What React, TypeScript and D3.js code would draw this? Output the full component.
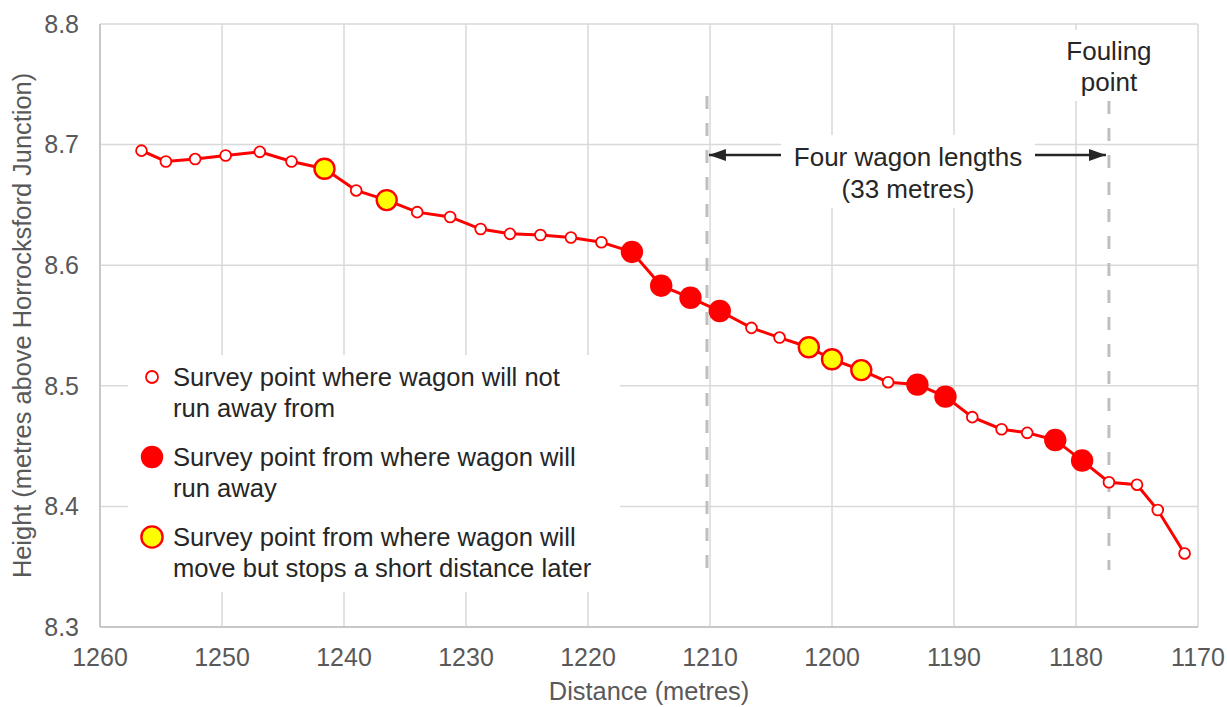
import React from 'react';
import * as d3 from 'd3';

// Survey points
const distances = [
  1256.6, 1254.6, 1252.2, 1249.7, 1246.9, 1244.3, 1241.6, 1239.0, 1236.5, 1234.0,
  1231.3, 1228.8, 1226.4, 1223.9, 1221.4, 1218.9, 1216.4, 1214.0, 1211.6, 1209.2,
  1206.6, 1204.3, 1201.9, 1200.0, 1197.6, 1195.4, 1193.0, 1190.7, 1188.5, 1186.1,
  1184.0, 1181.7, 1179.5, 1177.3, 1175.0, 1173.3, 1171.1,
];
const heights = [
  8.695, 8.686, 8.688, 8.691, 8.694, 8.686, 8.680, 8.662, 8.654, 8.644,
  8.640, 8.630, 8.626, 8.625, 8.623, 8.619, 8.611, 8.583, 8.573, 8.562,
  8.548, 8.540, 8.532, 8.522, 8.513, 8.503, 8.501, 8.491, 8.474, 8.464,
  8.461, 8.455, 8.438, 8.420, 8.418, 8.397, 8.361,
];
// o = will not run away, r = runs away, y = moves but stops
const kinds = [
  'o', 'o', 'o', 'o', 'o', 'o', 'y', 'o', 'y', 'o',
  'o', 'o', 'o', 'o', 'o', 'o', 'r', 'r', 'r', 'r',
  'o', 'o', 'y', 'y', 'y', 'o', 'r', 'r', 'o', 'o',
  'o', 'r', 'r', 'o', 'o', 'o', 'o',
];

const xTicks = [1260, 1250, 1240, 1230, 1220, 1210, 1200, 1190, 1180, 1170];
const yTicks = [8.3, 8.4, 8.5, 8.6, 8.7, 8.8];

const wagonStart = 1210.25;
const foulingPoint = 1177.3;

const legendItems = [
  { kind: 'o', lines: ['Survey point where wagon will not', 'run away from'] },
  { kind: 'r', lines: ['Survey point from where wagon will', 'run away'] },
  { kind: 'y', lines: ['Survey point from where wagon will', 'move but stops a short distance later'] },
];

const W = 1227;
const H = 707;
const margin = { top: 24, right: 29, bottom: 80, left: 100 };
const font = 'Arial, "Liberation Sans", sans-serif';

const x = d3.scaleLinear().domain([1260, 1170]).range([margin.left, W - margin.right]);
const y = d3.scaleLinear().domain([8.3, 8.8]).range([H - margin.bottom, margin.top]);

const pts = distances.map((d, i) => ({ d, h: heights[i], k: kinds[i] }));

const line = d3.line<{ d: number; h: number }>()
  .x(p => x(p.d))
  .y(p => y(p.h));

function Marker({ k, cx, cy, big }: { k: string; cx: number; cy: number; big?: boolean }) {
  if (k === 'o') return <circle cx={cx} cy={cy} r={big ? 6 : 5.4} fill="#fff" stroke="#ff0000" strokeWidth={1.8} />;
  if (k === 'r') return <circle cx={cx} cy={cy} r={11.2} fill="#ff0000" />;
  return <circle cx={cx} cy={cy} r={big ? 10.6 : 10} fill="#ffff00" stroke="#ff0000" strokeWidth={2.4} />;
}

export default function App() {
  const x0 = margin.left;
  const x1 = W - margin.right;
  const y0 = H - margin.bottom;
  const y1 = margin.top;
  const dashTop = 96;
  const dashBottom = 570;
  const arrowY = 155;
  const ink = '#262626';
  const axisInk = '#595959';

  return (
    <svg width={W} height={H} style={{ position: 'absolute', left: 0, top: 0, background: '#fff' }} fontFamily={font}>
      <defs>
        <marker id="arr" viewBox="0 0 17 12" refX={17} refY={6} markerWidth={17} markerHeight={12}
          markerUnits="userSpaceOnUse" orient="auto">
          <path d="M0,0 L17,6 L0,12 z" fill={ink} />
        </marker>
      </defs>

      {/* grid */}
      {xTicks.map(t => (
        <line key={'gx' + t} x1={x(t)} x2={x(t)} y1={y1} y2={y0} stroke="#d9d9d9" strokeWidth={1.5} />
      ))}
      {yTicks.map(t => (
        <line key={'gy' + t} x1={x0} x2={x1} y1={y(t)} y2={y(t)} stroke="#d9d9d9" strokeWidth={1.5} />
      ))}
      <line x1={x0} x2={x0} y1={y1} y2={y0} stroke="#bfbfbf" strokeWidth={1.5} />
      <line x1={x0} x2={x1} y1={y0} y2={y0} stroke="#bfbfbf" strokeWidth={1.5} />

      {/* tick labels */}
      {yTicks.map(t => (
        <text key={'ly' + t} x={79} y={y(t)} dy="0.35em" textAnchor="end" fontSize={25} fill={axisInk}>
          {d3.format('.1f')(t)}
        </text>
      ))}
      {xTicks.map(t => (
        <text key={'lx' + t} x={x(t)} y={657} dy="0.35em" textAnchor="middle" fontSize={25} fill={axisInk}>
          {t}
        </text>
      ))}
      <text x={(x0 + x1) / 2} y={691} dy="0.35em" textAnchor="middle" fontSize={25.4} fill={axisInk}>
        Distance (metres)
      </text>
      <text transform={`translate(22,${(y0 + y1) / 2}) rotate(-90)`} dy="0.35em" textAnchor="middle" fontSize={25.4} fill={axisInk}>
        Height (metres above Horrocksford Junction)
      </text>

      {/* annotation backgrounds */}
      <rect x={781} y={135} width={254} height={73} fill="#fff" />
      <rect x={1050} y={30} width={120} height={71} fill="#fff" />
      <rect x={128} y={355} width={492} height={237} fill="#fff" />

      {/* wagon length markers */}
      {[wagonStart, foulingPoint].map((v, i) => (
        <line key={'dl' + i} x1={x(v)} x2={x(v)} y1={i === 0 ? dashTop : dashTop + 5} y2={dashBottom}
          stroke="#bfbfbf" strokeWidth={3} strokeDasharray="13 14" />
      ))}
      <line x1={781} x2={x(wagonStart) + 2} y1={arrowY} y2={arrowY} stroke={ink} strokeWidth={2.5} markerEnd="url(#arr)" />
      <line x1={1035} x2={x(foulingPoint) - 3} y1={arrowY} y2={arrowY} stroke={ink} strokeWidth={2.5} markerEnd="url(#arr)" />
      <text x={908} y={157} dy="0.35em" textAnchor="middle" fontSize={26} fill={ink}>Four wagon lengths</text>
      <text x={908} y={189} dy="0.35em" textAnchor="middle" fontSize={26} fill={ink}>(33 metres)</text>
      <text x={x(foulingPoint)} y={51} dy="0.35em" textAnchor="middle" fontSize={26} fill={ink}>Fouling</text>
      <text x={x(foulingPoint)} y={82} dy="0.35em" textAnchor="middle" fontSize={26} fill={ink}>point</text>

      {/* series */}
      <path d={line(pts) ?? ''} fill="none" stroke="#ff0000" strokeWidth={3} />
      {pts.map((p, i) => (
        <Marker key={'p' + i} k={p.k} cx={x(p.d)} cy={y(p.h)} />
      ))}

      {/* legend */}
      {legendItems.map((it, i) => {
        const cy = 377 + i * 80;
        return (
          <g key={'lg' + i}>
            <Marker k={it.kind} cx={152} cy={cy} big />
            {it.lines.map((s, j) => (
              <text key={j} x={173} y={cy + j * 31} dy="0.35em" fontSize={25.6} fill={ink}>{s}</text>
            ))}
          </g>
        );
      })}
    </svg>
  );
}
